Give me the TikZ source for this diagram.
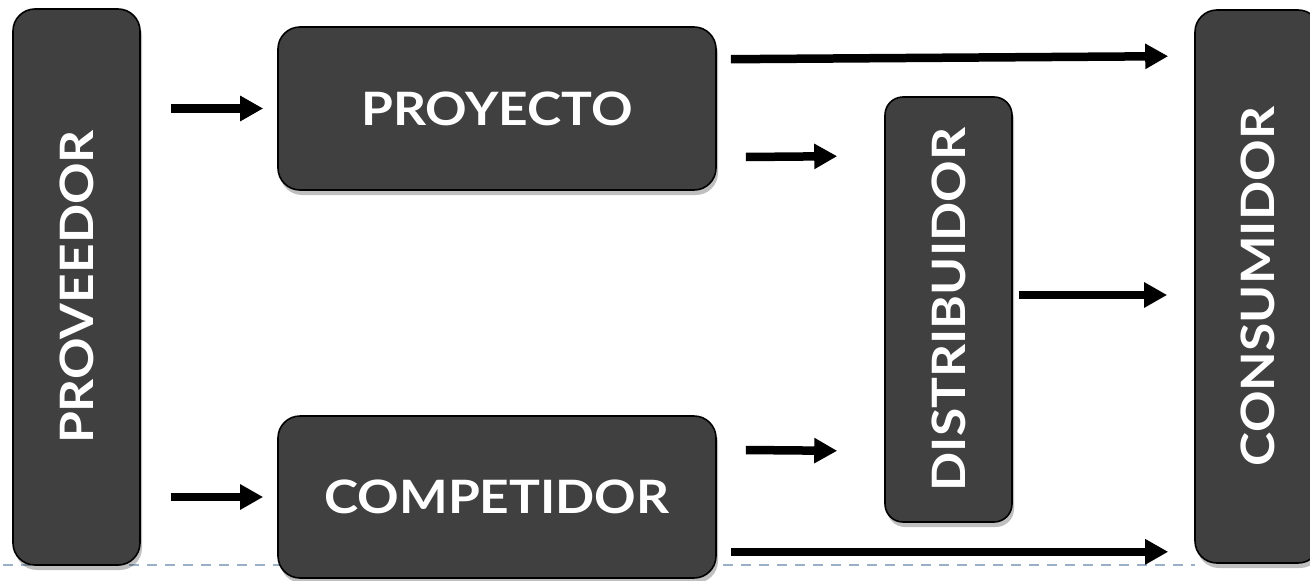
\documentclass[tikz,border=0pt]{standalone}
\usepackage{fontspec}
\setmainfont{Lato}[BoldFeatures={FakeStretch=1.12}]
\usetikzlibrary{arrows.meta,shadows,calc}
\definecolor{boxgrey}{HTML}{404040}
\definecolor{guideblue}{HTML}{9AB0C6}
\begin{document}
\begin{tikzpicture}[x=1pt,y=-1pt,
  box/.style={draw=black, line width=1.6pt, fill=boxgrey, rounded corners=22pt,
    inner sep=0pt, text=white, font=\fontsize{46}{50}\selectfont\bfseries,
    drop shadow={shadow xshift=2pt, shadow yshift=-5pt, fill=black, opacity=0.25}},
  arr/.style={line width=8.5pt, -{Triangle[length=23pt,width=24pt]}},
  guide/.style={draw=guideblue, line width=1.6pt, dash pattern=on 10pt off 8pt}]
  \useasboundingbox (0,0) rectangle (1310,581);

  % dashed guide line behind the boxes
  \coordinate (g0) at (3,565);
  \draw[guide] (g0) -- (1195,565);

  % boxes
  \node[box, minimum width=127pt, minimum height=556pt] (prov) at (76.5,287)
    {\rotatebox{90}{PROVEEDOR}};
  \node[box, minimum width=438pt, minimum height=163pt] (proy) at (497,108.5)
    {PROYECTO};
  \node[box, minimum width=438pt, minimum height=162pt] (comp) at (497,497)
    {COMPETIDOR};
  \node[box, minimum width=127pt, minimum height=425pt, rounded corners=18pt] (dist) at (948.5,309.5)
    {\rotatebox{90}{DISTRIBUIDOR}};
  \node[box, minimum width=125pt, minimum height=553pt] (cons) at (1257.5,286.5)
    {\rotatebox{90}{CONSUMIDOR}};

  % flows
  \draw[arr, shorten <=30pt, shorten >=14pt] (prov.east |- proy.west) -- (proy.west);
  \draw[arr, shorten <=30pt, shorten >=14pt] (prov.east |- comp.west) -- (comp.west);
  \draw[arr] ([xshift=14pt,yshift=-33pt]proy.north east) -- ([xshift=-26pt,yshift=-47pt]cons.north west);
  \draw[arr] ([xshift=29pt,yshift=-48.5pt]proy.east) -- ([xshift=-47pt,yshift=-60pt]dist.north west);
  \draw[arr] ([xshift=29pt,yshift=47pt]comp.east) -- ([xshift=-47pt,yshift=72pt]dist.south west);
  \draw[arr] ([xshift=14pt,yshift=27pt]comp.south east) -- ([xshift=-26pt,yshift=12pt]cons.south west);
  \draw[arr] ([xshift=6pt,yshift=14.5pt]dist.east) -- ([xshift=-27pt,yshift=-8.5pt]cons.west);
\end{tikzpicture}
\end{document}
